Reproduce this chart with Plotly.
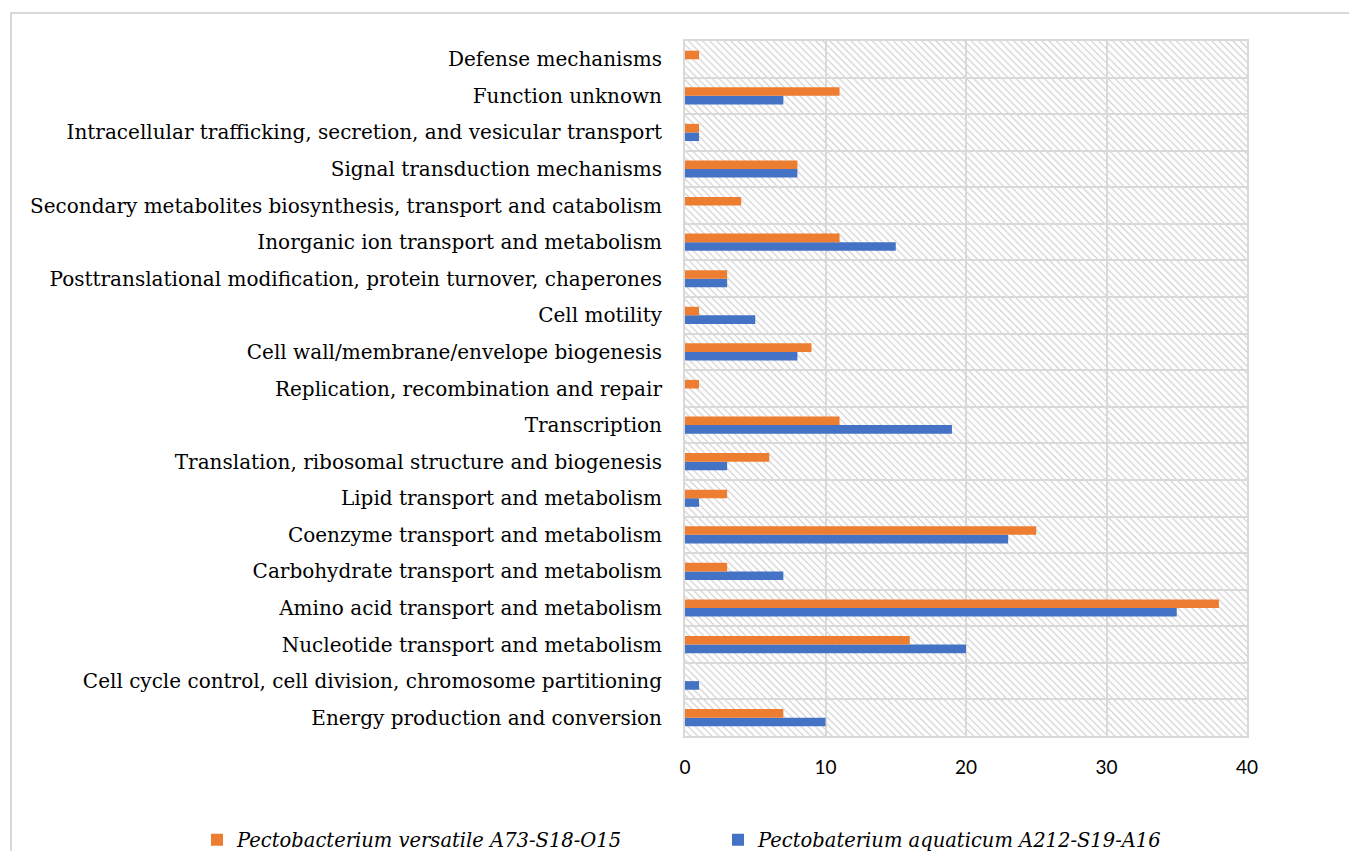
import base64
import plotly.graph_objects as go

# Categories listed bottom-to-top as they appear on the chart
categories = [
    "Energy production and conversion",
    "Cell cycle control, cell division, chromosome partitioning",
    "Nucleotide transport and metabolism",
    "Amino acid transport and metabolism",
    "Carbohydrate transport and metabolism",
    "Coenzyme transport and metabolism",
    "Lipid transport and metabolism",
    "Translation, ribosomal structure and biogenesis",
    "Transcription",
    "Replication, recombination and repair",
    "Cell wall/membrane/envelope biogenesis",
    "Cell motility",
    "Posttranslational modification, protein turnover, chaperones",
    "Inorganic ion transport and metabolism",
    "Secondary metabolites biosynthesis, transport and catabolism",
    "Signal transduction mechanisms",
    "Intracellular trafficking, secretion, and vesicular transport",
    "Function unknown",
    "Defense mechanisms",
]
versatile = [7, 0, 16, 38, 3, 25, 3, 6, 11, 1, 9, 1, 3, 11, 4, 8, 1, 11, 1]
aquaticum = [10, 1, 20, 35, 7, 23, 1, 3, 19, 0, 8, 5, 3, 15, 0, 8, 1, 7, 0]
name_versatile = "Pectobacterium versatile A73-S18-O15"
name_aquaticum = "Pectobaterium aquaticum A212-S19-A16"
x_ticks = [0, 10, 20, 30, 40]

W, H = 1349, 851

L = 685
R = W - 1247
T = 41
B = H - 736
PW, PH = W - L - R, H - T - B

GRID = "#d9d9d9"

fig = go.Figure()
fig.add_trace(go.Bar(y=categories, x=aquaticum, orientation="h", name=name_aquaticum,
                     legend="legend2",
                     marker=dict(color="#4472C4", line=dict(width=0))))
fig.add_trace(go.Bar(y=categories, x=versatile, orientation="h", name=name_versatile,
                     legend="legend",
                     marker=dict(color="#ED7D31", line=dict(width=0))))

# hatched plot background
svg = f'''<svg xmlns="http://www.w3.org/2000/svg" width="{PW}" height="{PH}">
<defs><pattern id="h" patternUnits="userSpaceOnUse" width="5" height="5" patternTransform="rotate(45)">
<line x1="0" y1="2.5" x2="5" y2="2.5" stroke="#d2d2d2" stroke-width="1.3"/></pattern></defs>
<rect width="{PW}" height="{PH}" fill="white"/>
<rect width="{PW}" height="{PH}" fill="url(#h)"/></svg>'''
src = "data:image/svg+xml;base64," + base64.b64encode(svg.encode()).decode()
fig.add_layout_image(dict(source=src, xref="paper", yref="paper", x=0, y=1, sizex=1, sizey=1,
                          xanchor="left", yanchor="top", sizing="stretch", layer="below"))


def px_x(p):
    return (p - L) / PW


def px_y(p):
    return (H - B - p) / PH


# outer chart border
fig.add_shape(type="rect", xref="paper", yref="paper",
              x0=px_x(11), x1=px_x(1400), y0=px_y(13), y1=px_y(900),
              line=dict(color=GRID, width=2), fillcolor="rgba(0,0,0,0)", layer="below")

leg_font = dict(family="DejaVu Serif", size=19.5, color="#000000", style="italic")
leg_common = dict(orientation="h", xref="container", yref="container",
                  xanchor="left", yanchor="middle", font=leg_font,
                  itemwidth=30, bgcolor="rgba(0,0,0,0)")

fig.update_layout(
    width=W, height=H,
    margin=dict(l=L, r=R, t=T, b=B),
    paper_bgcolor="white", plot_bgcolor="white",
    barmode="group", bargap=0.53, bargroupgap=0,
    showlegend=True,
    legend=dict(x=197 / W, y=(H - 840) / H, **leg_common),
    legend2=dict(x=718 / W, y=(H - 840) / H, **leg_common),
    xaxis=dict(range=[0, 40], tickvals=x_ticks, showgrid=True, gridcolor=GRID, gridwidth=2,
               zeroline=False, showline=True, linecolor=GRID, linewidth=2, mirror=True,
               ticks="", ticklabelstandoff=13,
               tickfont=dict(family="Lato", size=19, color="#000000")),
    yaxis=dict(type="category", range=[-0.5, len(categories) - 0.5], tickson="boundaries",
               showgrid=True, gridcolor=GRID, gridwidth=2, showline=True, linecolor=GRID,
               linewidth=2, mirror=True, ticks="", ticklabelstandoff=17,
               tickfont=dict(family="DejaVu Serif", size=20, color="#000000")),
)

fig.write_html("out.html", config={"displayModeBar": False},
               post_script="document.body.style.margin='0';document.body.style.overflow='hidden';")
